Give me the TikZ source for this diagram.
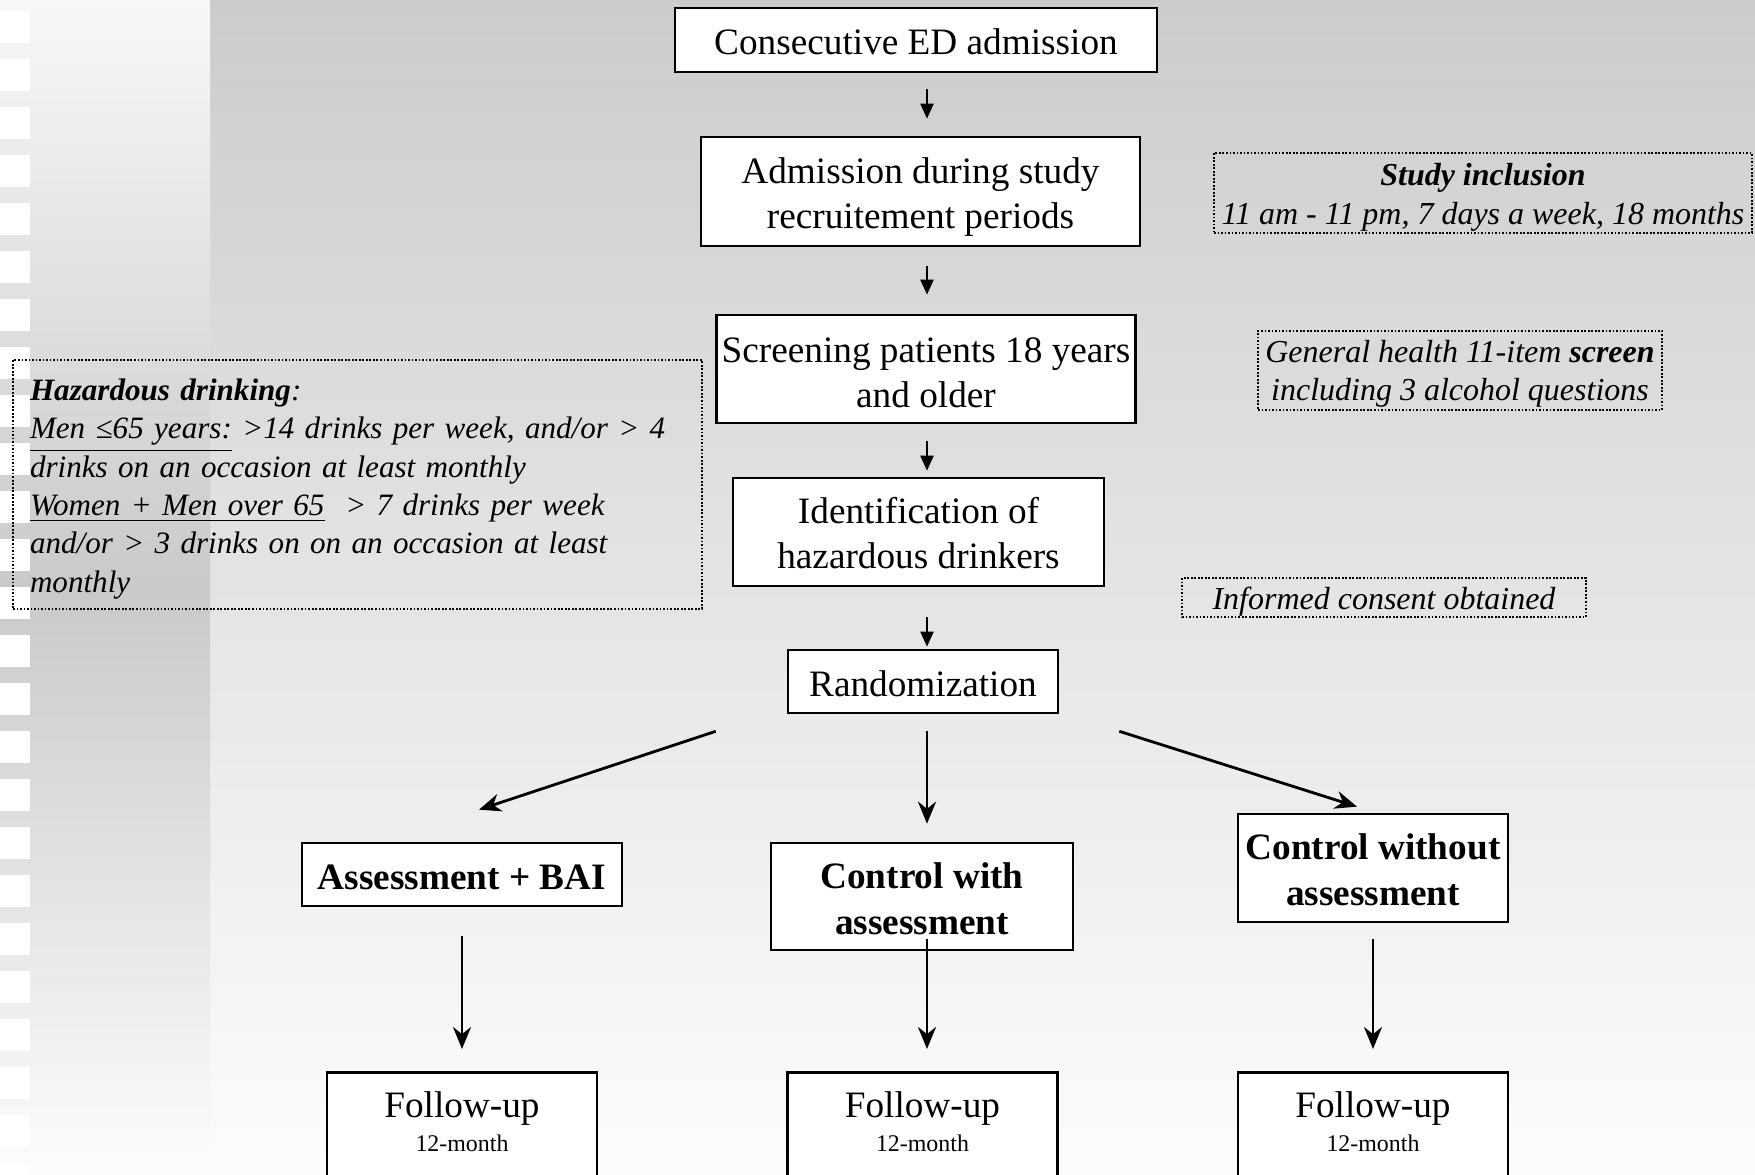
\documentclass[tikz,border=0pt]{standalone}
\usepackage{fontspec}
\setmainfont{Liberation Serif}
\usetikzlibrary{positioning,arrows.meta,calc}
\definecolor{bgtop}{gray}{0.80}
\definecolor{bgbottom}{gray}{0.99}
\definecolor{striptop}{gray}{0.97}
\definecolor{stripmid}{gray}{0.79}
\newcommand\monthfont{\fontsize{6.8}{8}\selectfont}
\newcommand\topline[1]{\rule{0pt}{#1}}
\newcommand\footline{\rule[-1.1mm]{0pt}{1.1mm}}
\tikzset{
  flowbox/.style={
    draw, line width=0.75pt, fill=white,
    align=center, font=\fontsize{10.6}{12.8}\selectfont,
    inner xsep=0.5mm, inner ysep=0.3mm
  },
  armbox/.style={
    flowbox, font=\fontsize{10.6}{13}\selectfont\bfseries
  },
  fubox/.style={
    flowbox, anchor=north, minimum width=27mm, minimum height=11mm
  },
  notebox/.style={
    draw, line width=0.5pt, dash pattern=on 0.5pt off 0.5pt,
    align=center, font=\fontsize{9.1}{10.9}\selectfont\itshape,
    inner xsep=0.5mm, inner ysep=0mm
  },
  smallarrow/.style={-{Triangle[length=1.5mm,width=1.3mm]}, line width=0.6pt},
  bigarrow/.style={-{Stealth[length=2.2mm,width=1.8mm]}, line width=0.8pt}
}
\begin{document}
\begin{tikzpicture}[x=0.1mm, y=-0.1mm]
  % page and background
  \useasboundingbox (0,0) rectangle (1755,1175);
  \clip (0,0) rectangle (1755,1175);
  \shade[top color=bgtop, bottom color=bgbottom] (210,0) rectangle (1755,1175);
  \shade[top color=striptop, bottom color=stripmid] (0,0) rectangle (210,591);
  \shade[top color=stripmid, bottom color=bgbottom] (0,590) rectangle (210,1175);
  \foreach \k in {0,...,24}
    \fill[white] (0,11+48*\k) rectangle (30,43+48*\k);

  % main flow
  \node[flowbox, minimum width=48.2mm, minimum height=6.4mm] (ed) at (916,40) {\topline{8.55pt}Consecutive ED admission};
  \node[flowbox, minimum width=43.9mm, minimum height=10.9mm] (adm) at (920.5,191.5) {\topline{10.5pt}Admission during study\\recruitement periods};
  \node[flowbox, minimum width=41.8mm, minimum height=10.8mm] (scr) at (926,369) {\topline{9.2pt}Screening patients 18 years\\and older};
  \node[flowbox, minimum width=37.1mm, minimum height=10.8mm] (ident) at (918.5,532) {\topline{8.3pt}Identification of\\hazardous drinkers};
  \node[flowbox, minimum width=27mm, minimum height=6.3mm] (rand) at (923,681.5) {\topline{8.55pt}Randomization};

  % study arms
  \node[armbox, minimum width=32mm, minimum height=6.3mm] (bai) at (462,874.5) {\topline{8.55pt}Assessment + BAI};
  \node[armbox, minimum width=30.2mm, minimum height=10.7mm] (ctrlA) at (922,896.5) {\topline{8.55pt}Control with\\assessment};
  \node[armbox, minimum width=27mm, minimum height=10.8mm] (ctrlB) at (1373,868) {\topline{8.55pt}Control without\\assessment};

  \node[fubox] (fuA) at (462,1071) {Follow-up\\[-1.1mm]{\monthfont 12-month}\footline};
  \node[fubox] (fuB) at (922.5,1071) {Follow-up\\[-1.1mm]{\monthfont 12-month}\footline};
  \node[fubox] (fuC) at (1373,1071) {Follow-up\\[-1.1mm]{\monthfont 12-month}\footline};

  % side notes
  \node[notebox, minimum width=53.8mm, minimum height=8mm] (incl) at (1483,193) {\topline{8.8pt}\textbf{Study inclusion}\\11 am - 11 pm, 7 days a week, 18 months};
  \node[notebox, minimum width=40.4mm, minimum height=7.9mm] (gen) at (1460,370.5) {\topline{8.4pt}General health 11-item \textbf{screen}\\including 3 alcohol questions};
  \node[notebox, minimum width=40.4mm, minimum height=3.9mm] (consent) at (1384,597.5) {\topline{8.8pt}Informed consent obtained};
  \node[notebox, align=left, text width=65.5mm, inner xsep=1.7mm, minimum height=24.9mm,
        font=\fontsize{8.85}{10.9}\selectfont\itshape] (hazard) at (357.5,484.5)
    {\topline{8.6pt}\textbf{Hazardous drinking}:\\
     \underline{Men ≤65 years:} >14 drinks per week, and/or > 4\\
     drinks on an occasion at least monthly\\
     \underline{Women + Men over 65}\ \ > 7 drinks per week\\
     and/or > 3 drinks on on an occasion at least\\
     monthly};

  % connectors
  \coordinate (spine) at (927,0);
  \coordinate (brL) at ($(rand.south west)+(-71,17)$);
  \coordinate (brR) at ($(rand.south east)+(60,17)$);
  \coordinate (tipL) at ($(bai.north)+(17,-32)$);
  \coordinate (tipR) at ($(ctrlB.north)+(-16,-6)$);

  \draw[smallarrow, shorten <=1.6mm, shorten >=1.7mm] (ed.south -| spine) -- (adm.north -| spine);
  \draw[smallarrow, shorten <=1.9mm, shorten >=1.9mm] (adm.south -| spine) -- (scr.north -| spine);
  \draw[smallarrow, shorten <=1.7mm, shorten >=0.6mm] (scr.south -| spine) -- (ident.north -| spine);
  \draw[smallarrow, shorten <=3mm, shorten >=0.2mm] (ident.south -| spine) -- (rand.north -| spine);

  \draw[bigarrow] (brL) -- (tipL);
  \draw[bigarrow, shorten <=1.7mm, shorten >=1.8mm] (rand.south -| spine) -- (ctrlA.north -| spine);
  \draw[bigarrow] (brR) -- (tipR);

  \draw[bigarrow, shorten <=2.9mm, shorten >=2.2mm] (bai.south) -- (fuA.north);
  \draw[bigarrow, shorten <=-1.2mm, shorten >=2.2mm] (ctrlA.south -| spine) -- (fuB.north -| spine);
  \draw[bigarrow, shorten <=1.6mm, shorten >=2.2mm] (ctrlB.south) -- (fuC.north);
\end{tikzpicture}
\end{document}
